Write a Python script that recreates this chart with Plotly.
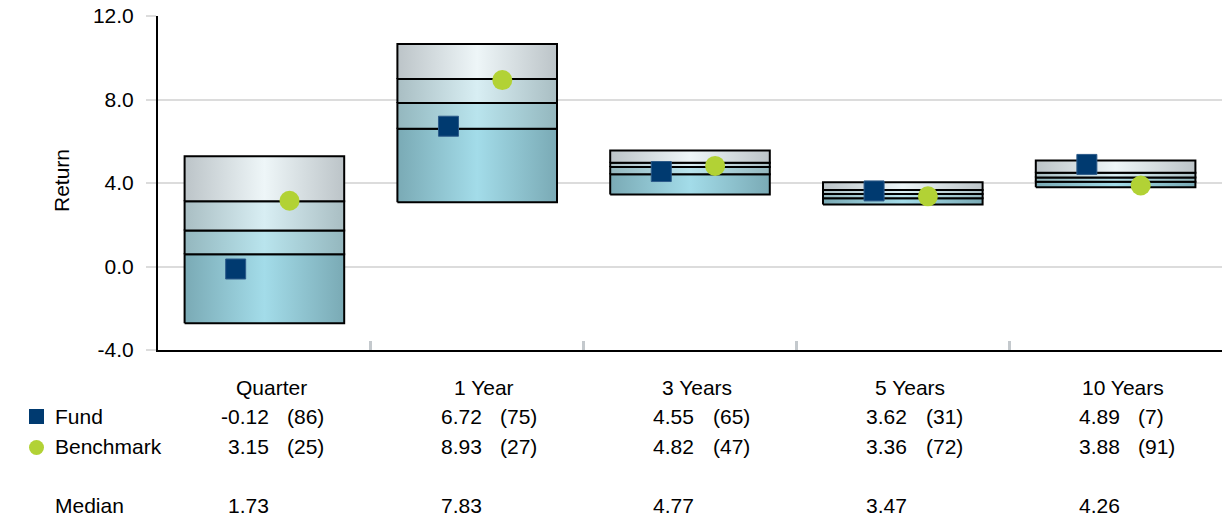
import plotly.graph_objects as go

# Peer-universe return percentiles per period
categories = ["Quarter", "1 Year", "3 Years", "5 Years", "10 Years"]
p05 = [-2.72, 3.08, 3.45, 2.97, 3.80]
p25 = [0.59, 6.60, 4.42, 3.27, 4.06]
median = [1.73, 7.83, 4.77, 3.47, 4.26]
p75 = [3.12, 8.98, 4.97, 3.67, 4.49]
p95 = [5.28, 10.66, 5.56, 4.04, 5.08]

fund = [-0.12, 6.72, 4.55, 3.62, 4.89]
fund_rank = [86, 75, 65, 31, 7]
benchmark = [3.15, 8.93, 4.82, 3.36, 3.88]
bench_rank = [25, 27, 47, 72, 91]

y_ticks = [-4, 0, 4, 8, 12]

# Quartile band colours, bottom band first: (edge, centre) of horizontal gradient
band_edge = ["#7aaab5", "#94b7be", "#a9bec3", "#bcc4c8"]
band_mid = ["#a3dce9", "#b9e4ed", "#d8eef3", "#eef6f8"]

FONT = "Liberation Sans, Arial, sans-serif"
FS = 21
NAVY = "#003a70"
LIME = "#b2d235"

# Plot-area geometry (pixels) used to place the table below the axes
W, H = 1232, 521
ML, MR, MT, MB = 158, 10, 16, 171
PW, PH = W - ML - MR, H - MT - MB


def paper_y(py):
    return (H - MB - py) / PH


def paper_x(px):
    return (px - ML) / PW


fig = go.Figure()

half = 0.375
for i, cat in enumerate(categories):
    levels = [p05[i], p25[i], median[i], p75[i], p95[i]]
    for b in range(4):
        lo, hi = levels[b], levels[b + 1]
        fig.add_trace(go.Scatter(
            x=[i - half, i + half, i + half, i - half, i - half],
            y=[lo, lo, hi, hi, lo],
            mode="lines",
            fill="toself",
            fillgradient=dict(
                type="horizontal",
                colorscale=[[0, band_edge[b]], [0.5, band_mid[b]], [1, band_edge[b]]],
            ),
            line=dict(color="#000000", width=2),
            hoverinfo="skip",
            showlegend=False,
        ))

xs = list(range(len(categories)))
fig.add_trace(go.Scatter(
    x=[x - 0.135 for x in xs], y=fund, mode="markers", name="Fund",
    marker=dict(symbol="square", size=20, color=NAVY, line=dict(color="#2d5b8a", width=1)),
    showlegend=False,
))
fig.add_trace(go.Scatter(
    x=[x + 0.118 for x in xs], y=benchmark, mode="markers", name="Benchmark",
    marker=dict(symbol="circle", size=20, color=LIME, line=dict(width=0)),
    showlegend=False,
))

annotations = []


def txt(text, x, y, xanchor, xref="x"):
    annotations.append(dict(
        text=text, x=x, y=y, xref=xref, yref="paper",
        xanchor=xanchor, yanchor="middle", showarrow=False,
        font=dict(family=FONT, size=FS, color="#000000"),
    ))


row_label, row_fund, row_bench, row_med = paper_y(388), paper_y(416), paper_y(446.5), paper_y(506)

for i, cat in enumerate(categories):
    txt(cat, i + 0.033, row_label, "center")
    txt(f"{fund[i]:.2f}", i + 0.03, row_fund, "right")
    txt(f"({fund_rank[i]})", i + 0.098, row_fund, "left")
    txt(f"{benchmark[i]:.2f}", i + 0.03, row_bench, "right")
    txt(f"({bench_rank[i]})", i + 0.098, row_bench, "left")
    txt(f"{median[i]:.2f}", i + 0.03, row_med, "right")

txt("Fund", paper_x(53), row_fund, "left", xref="paper")
txt("Benchmark", paper_x(53), row_bench, "left", xref="paper")
txt("Median", paper_x(53), row_med, "left", xref="paper")

annotations.append(dict(
    text="Return", x=paper_x(62), y=paper_y(181), xref="paper", yref="paper",
    xanchor="center", yanchor="middle", textangle=-90, showarrow=False,
    font=dict(family=FONT, size=FS, color="#000000"),
))

shapes = [
    dict(type="rect", xref="paper", yref="paper",
         x0=paper_x(29), x1=paper_x(44), y0=paper_y(409), y1=paper_y(424),
         fillcolor=NAVY, line=dict(width=0)),
    dict(type="circle", xref="paper", yref="paper",
         x0=paper_x(29), x1=paper_x(44), y0=paper_y(440), y1=paper_y(455),
         fillcolor=LIME, line=dict(width=0)),
]

fig.update_layout(
    width=W, height=H,
    margin=dict(l=ML, r=MR, t=MT, b=MB, pad=0, autoexpand=False),
    paper_bgcolor="white", plot_bgcolor="white",
    font=dict(family=FONT, size=FS, color="#000000"),
    annotations=annotations,
    shapes=shapes,
    xaxis=dict(
        range=[-0.5, 4.5],
        tickvals=[0.5, 1.5, 2.5, 3.5, 4.5],
        showticklabels=False,
        ticks="inside", ticklen=9, tickwidth=3, tickcolor="#c4c9cd",
        showgrid=False, zeroline=False, automargin=False,
        showline=True, linecolor="#000000", linewidth=2,
    ),
    yaxis=dict(
        range=[-4, 12], tickvals=y_ticks,
        ticktext=[f"{v:.1f}" for v in y_ticks],
        ticks="outside", ticklen=10, tickwidth=2, tickcolor="#dcdcdc",
        ticklabelstandoff=8, automargin=False,
        showgrid=True, gridcolor="#dcdcdc", gridwidth=2,
        zeroline=False,
        showline=True, linecolor="#000000", linewidth=2,
        tickfont=dict(family=FONT, size=FS, color="#000000"),
    ),
    showlegend=False,
)

fig.write_html("out.html")
